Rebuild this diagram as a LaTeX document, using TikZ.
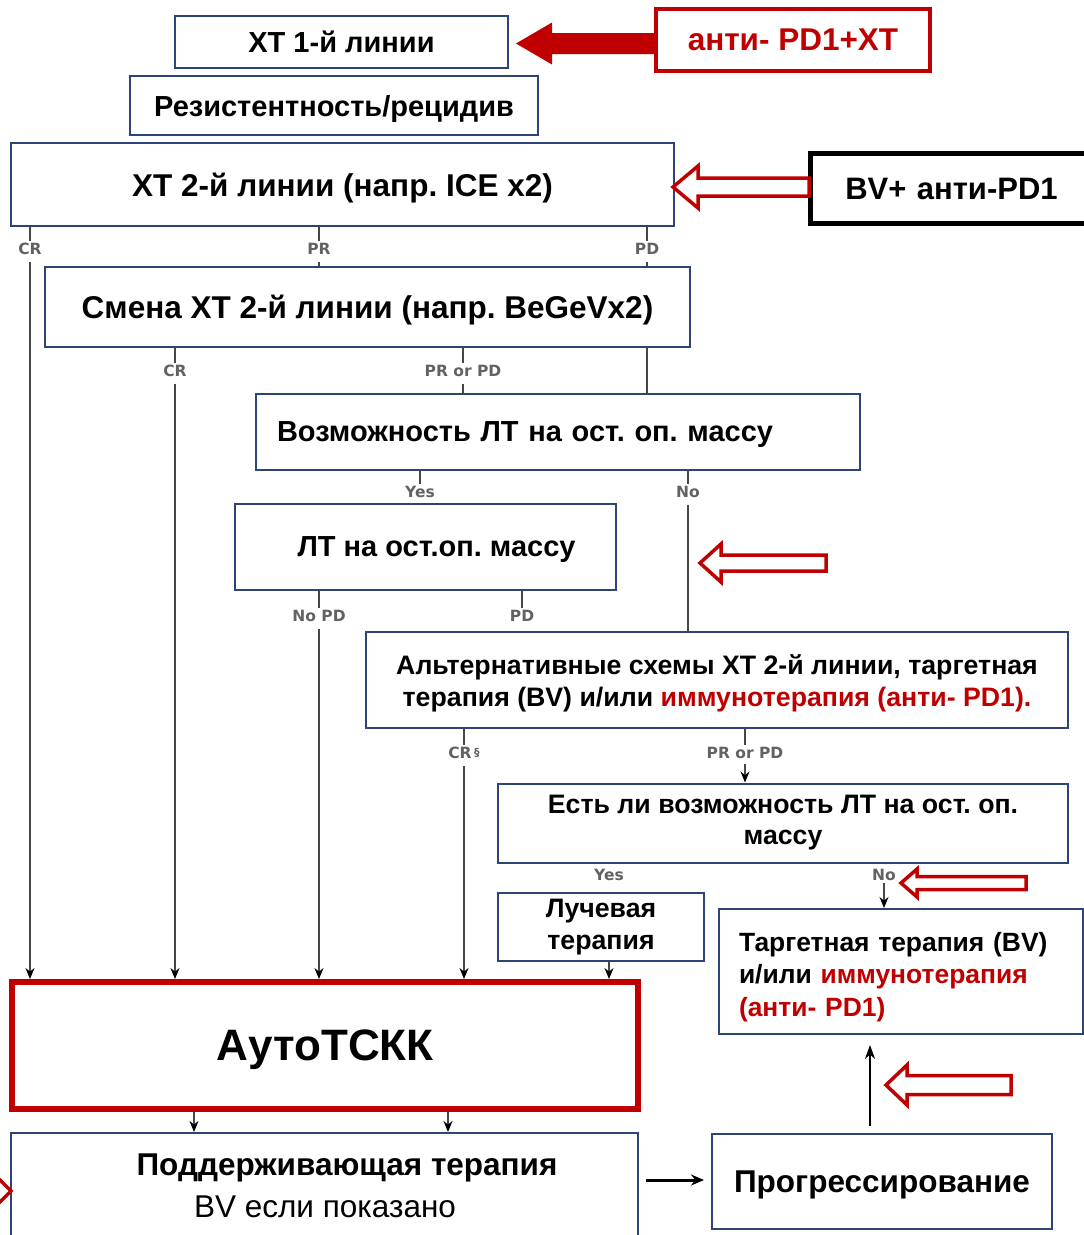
\documentclass[tikz,border=0pt]{standalone}
\usepackage{fontspec}
\setmainfont{Liberation Sans}
\newfontfamily\lblfont{DejaVu Sans}
\usetikzlibrary{arrows.meta}
\definecolor{boxblue}{RGB}{44,69,118}
\definecolor{dred}{RGB}{192,0,0}
\definecolor{lgray}{RGB}{70,70,70}
\pgfdeclarelayer{bg}
\pgfsetlayers{bg,main}
\newcommand\hollowarrow[6]{% tipx, tipy, basex, halfhead, halfshaft, tailx
  \filldraw[redarrow] (#1,#2) -- (#3,#2-#4) -- (#3,#2-#5) -- (#6,#2-#5) -- (#6,#2+#5) -- (#3,#2+#5) -- (#3,#2+#4) -- cycle;}
\begin{document}
\frenchspacing
\begin{tikzpicture}[x=1pt,y=-1pt,
  box/.style={draw=boxblue,line width=2pt,fill=white,inner sep=0pt,align=center,
    font=\bfseries\fontsize{31.5}{36}\selectfont,text depth=0pt},
  midbox/.style={box,text depth=,font=\bfseries\fontsize{26.7}{32}\selectfont},
  lbl/.style={font=\lblfont\bfseries\fontsize{15.5}{17}\selectfont,text=lgray!85,inner sep=2pt},
  conn/.style={draw=lgray,line width=1.4pt},
  arr/.style={conn,-{Stealth[length=11pt,width=9pt,black]}},
  redarrow/.style={draw=dred,fill=white,line width=3.5pt,line join=miter},
  ]
\useasboundingbox (0,0) rectangle (1084,1235);

% boxes
\node[box,minimum width=333,minimum height=52,font=\bfseries\fontsize{29}{34}\selectfont] (b1) at (341.5,42) {ХТ 1-й линии};
\node[box,draw=dred,line width=4pt,minimum width=274,minimum height=62,text=dred,font=\bfseries\fontsize{31.5}{34}\selectfont] (b2) at (793,40) {анти- PD1+ХТ};
\node[box,minimum width=408,minimum height=59,font=\bfseries\fontsize{29}{34}\selectfont] (b3) at (334,105.5) {Резистентность/рецидив};
\node[box,minimum width=663,minimum height=83] (b4) at (342.5,184.5) {ХТ 2-й линии (напр. ICE x2)};
\node[box,draw=black,line width=5pt,minimum width=300,minimum height=70,text width=280,font=\bfseries\fontsize{31}{34}\selectfont] (b5) at (960.5,188.5) {\hspace*{-18pt}BV+ анти-PD1};
\node[box,minimum width=645,minimum height=80] (b6) at (367.5,307) {Смена ХТ 2-й линии (напр. BeGeVx2)};
\node[box,minimum height=76,inner xsep=21pt,text width=562,align=left,font=\bfseries\fontsize{29}{32}\selectfont] (b7) at (558,432) {Возможность ЛТ на ост. оп. массу};
\node[box,minimum width=381,minimum height=86,font=\bfseries\fontsize{29}{34}\selectfont] (b8) at (425.5,547) {\hspace*{22pt}ЛТ на ост.оп. массу};
\node[midbox,minimum width=702,minimum height=96] (b9) at (717,680) {\rule{0pt}{26pt}Альтернативные схемы ХТ 2-й линии, таргетная\\терапия (BV) и/или \textcolor{dred}{иммунотерапия (анти- PD1).}};
\node[midbox,minimum width=570,minimum height=79,font=\bfseries\fontsize{26.7}{31}\selectfont] (b10) at (783,823) {Есть ли возможность ЛТ на ост. оп.\\массу};
\node[midbox,minimum width=206,minimum height=68,font=\bfseries\fontsize{26.7}{32}\selectfont] (b11) at (601,927) {Лучевая\\терапия};
\node[midbox,minimum height=125,inner xsep=20pt,text width=324,align=left,font=\bfseries\fontsize{26.4}{32.5}\selectfont] (b12) at (901,971.5) {\rule{0pt}{30pt}Таргетная терапия (BV)\\и/или \textcolor{dred}{иммунотерапия}\\\textcolor{dred}{(анти- PD1)}};
\node[box,draw=dred,line width=6pt,minimum width=626,minimum height=127,font=\bfseries\fontsize{44}{52}\selectfont] (b13) at (325,1045.5) {АутоТСКК};
\node[box,minimum width=627,minimum height=120] (b14) at (324.5,1193) {};
\node[font=\bfseries\fontsize{31.5}{36}\selectfont,inner sep=0pt] (t14a) at (347,1168) {Поддерживающая терапия};
\node[font=\fontsize{31.5}{36}\selectfont,inner sep=0pt] (t14b) at (325,1207) {BV если показано};
\node[box,minimum width=340,minimum height=95,font=\bfseries\fontsize{31.5}{36}\selectfont] (b15) at (882,1181.5) {Прогрессирование};

% labels
\node[lbl] (l1) at (30,249) {CR};
\node[lbl] (l2) at (319,249) {PR};
\node[lbl] (l3) at (647,249) {PD};
\node[lbl] (l4) at (175,371) {CR};
\node[lbl] (l5) at (463,371) {PR or PD};
\node[lbl] (l6) at (420,492) {Yes};
\node[lbl] (l7) at (688,492) {No};
\node[lbl] (l8) at (319,616) {No PD};
\node[lbl] (l9) at (522,616) {PD};
\node[lbl] (l10) at (464,753) {CR\,\raisebox{2pt}{\fontsize{11}{11}\selectfont §}};
\node[lbl] (l11) at (745,753) {PR or PD};
\node[lbl] (l12) at (609,875) {Yes};
\node[lbl] (l13) at (884,875) {No};

\begin{pgfonlayer}{bg}
% ticks
\draw[conn] (b4.south -| l1) -- (l1.north);
\draw[conn] (b4.south -| l2) -- (l2.north);
\draw[conn] (b4.south -| l3) -- (l3.north);
\draw[conn] (b6.south -| l4) -- (l4.north);
\draw[conn] (b6.south -| l5) -- (l5.north);
\draw[conn] (b7.south -| l6) -- (l6.north);
\draw[conn] (b7.south -| l7) -- (l7.north);
\draw[conn] (b8.south -| l8) -- (l8.north);
\draw[conn] (b8.south -| l9) -- (l9.north);
\draw[conn] (b9.south -| l10) -- (l10.north);
\draw[conn] (b9.south -| l11) -- (l11.north);
% main lines
\draw[arr,shorten <=5pt] (l1.south) -- (l1.south |- b13.north);
\draw[conn,shorten <=5pt] (l2.south) -- (l2.south |- b6.north);
\draw[conn,shorten <=5pt] (l3.south) -- (l3.south |- b7.north);
\draw[arr,shorten <=5pt] (l4.south) -- (l4.south |- b13.north);
\draw[conn,shorten <=5pt] (l5.south) -- (l5.south |- b7.north);
\draw[conn,shorten <=5pt] (l7.south) -- (l7.south |- b9.north);
\draw[arr,shorten <=5pt] (l8.south) -- (l8.south |- b13.north);
\draw[arr,shorten <=5pt] (l10.south -| 464,0) -- (464,0 |- b13.north);
\draw[arr,shorten <=3pt] (l11.south) -- (l11.south |- b10.north);
\draw[arr] (l13.south) -- (l13.south |- b12.north);
\draw[arr] (b11.south -| 609,0) -- (609,0 |- b13.north);
\draw[arr] (b13.south -| 194,0) -- (194,0 |- b14.north);
\draw[arr,line width=2pt] (b13.south -| 448,0) -- (448,0 |- b14.north);
\end{pgfonlayer}
\draw[-{Stealth[length=13pt,width=11pt]},line width=3pt,shorten <=7pt,shorten >=7pt] (b14.east |- 0,1180) -- (b15.west |- 0,1180);
\draw[-{Stealth[length=14pt,width=10pt]},line width=2.2pt,shorten <=7pt,shorten >=10pt] (b15.north -| 870,0) -- (870,0 |- b12.south);

% big filled arrow b2 -> b1
\fill[dred] (516,43.5) -- (552,22.5) -- (552,33) -- (b2.west |- 0,33) -- (b2.west |- 0,54) -- (552,54) -- (552,64.5) -- cycle;

% hollow red arrows
\hollowarrow{673}{187}{698}{21}{9}{809}
\hollowarrow{700}{563}{721}{19}{8}{826}
\hollowarrow{901}{883}{917}{14}{6.5}{1026}
\hollowarrow{886}{1085}{907}{20}{9.5}{1011}
\filldraw[redarrow] (11,1191) -- (-10,1170) -- (-10,1181) -- (-120,1181) -- (-120,1201) -- (-10,1201) -- (-10,1212) -- cycle;
\end{tikzpicture}
\end{document}
